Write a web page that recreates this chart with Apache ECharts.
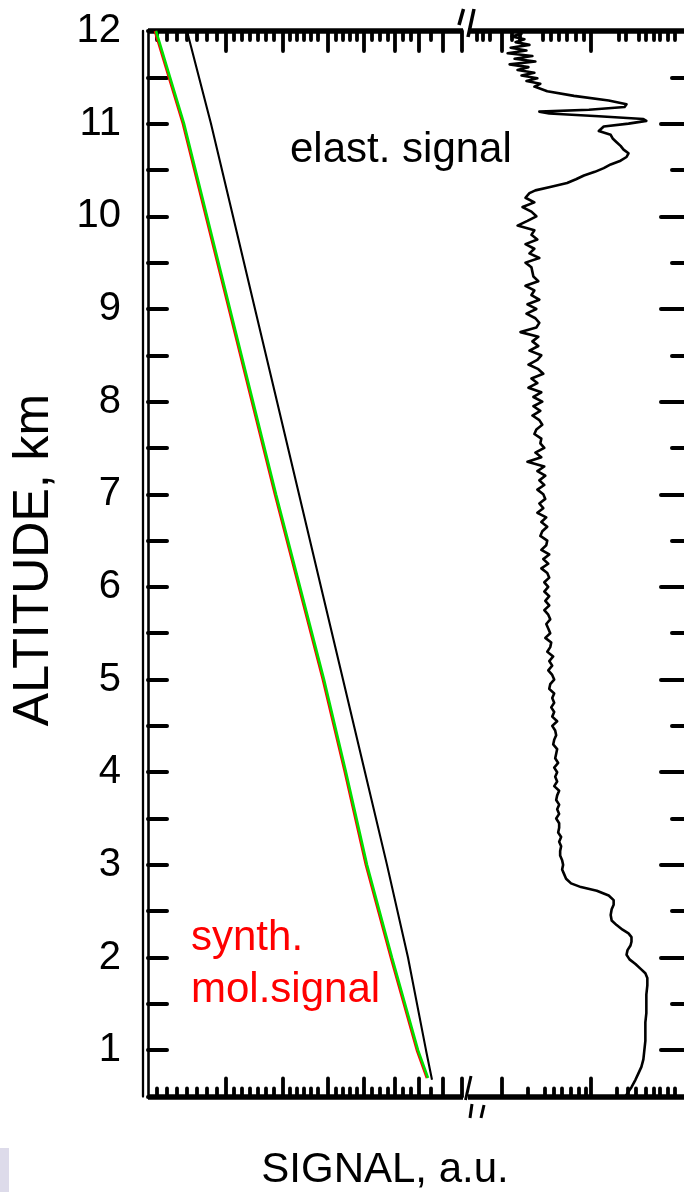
<!DOCTYPE html>
<html>
<head>
<meta charset="utf-8">
<script src="https://cdn.jsdelivr.net/npm/echarts@6/dist/echarts.min.js"></script>
<style>
  html, body { margin: 0; padding: 0; background: #fff; }
  #chart { width: 684px; height: 1192px; }
</style>
</head>
<body>
<div id="chart"></div>
<script>
// Lidar profiles: altitude (km) against signal (a.u., broken axis)

// Synthetic molecular signal (red) and its companion curve (green)
const molAlt = [12, 11, 10, 9, 8, 7, 6, 5, 4, 3, 2, 1, 0.7];
const synthRed = [0.7, 3.5, 5.8, 8.1, 10.4, 12.7, 15.1, 17.5, 19.7, 21.8, 24.3, 26.9, 27.9];
const synthGreen = [0.8, 3.6, 5.9, 8.2, 10.5, 12.8, 15.2, 17.6, 19.8, 21.9, 24.4, 27.0, 28.0];

// Measured molecular channel (black, left panel)
const rawAlt = [12, 11, 10, 9, 8, 7, 6, 5, 4, 3, 2, 1, 0.68];
const rawMol = [3.9, 6.3, 8.5, 10.7, 12.9, 15.1, 17.3, 19.5, 21.7, 23.9, 26.0, 27.8, 28.4];

// Elastic backscatter signal (right panel)
const elastAlt = [
  12.00, 11.97, 11.94, 11.91, 11.88, 11.85, 11.82, 11.79, 11.76, 11.73, 11.70, 11.67, 11.64, 11.61,
  11.58, 11.55, 11.52, 11.49, 11.46, 11.43, 11.40, 11.35, 11.30, 11.25, 11.21, 11.18, 11.15, 11.13,
  11.11, 11.08, 11.05, 11.03, 11.00, 10.97, 10.92, 10.88, 10.84, 10.80, 10.76, 10.72, 10.68, 10.64,
  10.60, 10.56, 10.52, 10.48, 10.44, 10.40, 10.36, 10.32, 10.28, 10.25,
  10.20, 10.15, 10.10, 10.05, 10.00, 9.95, 9.90, 9.85, 9.80, 9.75, 9.70, 9.65, 9.60, 9.55, 9.50,
  9.45, 9.40, 9.35, 9.30, 9.25, 9.20, 9.15, 9.10, 9.05, 9.00, 8.95, 8.90, 8.85, 8.80, 8.75, 8.70,
  8.65, 8.60, 8.55, 8.50, 8.45, 8.40, 8.35, 8.30, 8.25, 8.20, 8.15, 8.10, 8.05, 8.00,
  7.95, 7.90, 7.85, 7.80, 7.75, 7.70, 7.65, 7.60, 7.55, 7.50, 7.45, 7.40, 7.35, 7.30, 7.25, 7.20,
  7.15, 7.10, 7.05, 7.00, 6.95, 6.90, 6.85, 6.80, 6.75, 6.70, 6.65, 6.60, 6.55, 6.50, 6.45, 6.40,
  6.35, 6.30, 6.25, 6.20, 6.15, 6.10, 6.05, 6.00,
  5.95, 5.90, 5.85, 5.80, 5.75, 5.70, 5.65, 5.60, 5.55, 5.50, 5.45, 5.40, 5.35, 5.30, 5.25, 5.20,
  5.15, 5.10, 5.05, 5.00, 4.95, 4.90, 4.85, 4.80, 4.75, 4.70, 4.65, 4.60, 4.55, 4.50, 4.45, 4.40,
  4.35, 4.30, 4.25, 4.20, 4.15, 4.10, 4.05, 4.00,
  3.95, 3.90, 3.85, 3.80, 3.75, 3.70, 3.65, 3.60, 3.55, 3.50, 3.45, 3.40, 3.35, 3.30, 3.25, 3.20,
  3.15, 3.10, 3.05, 3.00, 2.95, 2.90, 2.85,
  2.80, 2.76, 2.72, 2.67, 2.62, 2.57, 2.52, 2.46, 2.40, 2.35, 2.30, 2.26, 2.22, 2.17, 2.13, 2.08,
  2.03, 1.98, 1.93, 1.88, 1.83, 1.78, 1.70, 1.60, 1.50, 1.40, 1.30, 1.20, 1.10, 1.00, 0.90, 0.82,
  0.75, 0.68, 0.60, 0.52, 0.50
];
const elastSig = [
  4.7, 5.4, 4.4, 5.7, 4.8, 6.2, 4.3, 5.9, 4.0, 6.5, 4.7, 6.8, 4.2, 6.1,
  5.0, 6.7, 5.4, 7.0, 5.9, 7.3, 6.7, 8.0, 10.7, 14.2, 16.0, 15.8, 12.2, 7.2,
  8.2, 13.2, 17.7, 18.0, 16.2, 13.7, 13.2, 14.4, 14.6, 15.0, 15.4, 15.7, 16.2, 16.0,
  15.4, 14.4, 13.7, 12.8, 11.7, 10.9, 10.0, 8.4, 6.8, 6.2,
  5.8, 6.7, 5.5, 6.4, 6.9, 6.0, 5.0, 6.7, 6.4, 7.0, 5.8, 6.7, 6.2, 7.2, 5.8,
  6.4, 6.5, 6.6, 7.1, 5.8, 6.7, 6.4, 7.2, 6.0, 6.9, 5.9, 6.8, 7.2, 6.9, 5.3, 7.1,
  6.5, 7.1, 6.2, 7.4, 7.0, 6.1, 7.1, 7.6, 6.4, 7.0, 6.1, 7.4, 6.6, 7.5,
  6.6, 7.3, 6.5, 7.2, 7.5, 6.9, 6.7, 7.4, 7.3, 7.7, 6.8, 7.4, 6.0, 7.7, 7.0, 7.8,
  7.2, 7.7, 7.0, 7.6, 7.8, 7.2, 7.6, 7.0, 7.9, 7.4, 8.0, 7.5, 7.3, 8.0, 7.9, 7.4,
  8.2, 7.6, 8.1, 7.4, 8.0, 8.2, 7.7, 8.1,
  7.7, 8.2, 7.8, 8.2, 7.7, 8.1, 8.3, 7.9, 8.1, 8.3, 7.8, 8.4, 8.3, 8.0, 8.6, 8.2,
  8.5, 8.1, 8.5, 8.7, 8.3, 8.2, 8.7, 8.5, 8.7, 8.4, 8.7, 8.5, 9.0, 8.5, 8.8, 8.9,
  8.7, 8.6, 9.0, 8.9, 8.8, 9.1, 8.7, 9.0,
  8.8, 9.0, 8.7, 9.2, 9.0, 8.9, 9.2, 9.0, 9.2, 8.9, 9.2, 9.2, 9.1, 9.4, 9.2, 9.4,
  9.3, 9.3, 9.5, 9.6, 9.5, 9.7, 9.9,
  10.4, 11.4, 13.0, 14.2, 14.7, 14.7, 14.5, 14.4, 14.5, 15.0, 15.6, 16.2, 16.5, 16.5, 16.4, 16.1,
  16.0, 16.3, 16.9, 17.4, 17.9, 18.1, 18.1, 18.0, 18.0, 18.0, 17.9, 17.9, 17.9, 17.8, 17.7, 17.5,
  17.2, 16.9, 16.5, 16.0, 15.9
];

// Axis tick positions
const altMajor = [1, 2, 3, 4, 5, 6, 7, 8, 9, 10, 11, 12];
const altMinor = [0.5, 1.5, 2.5, 3.5, 4.5, 5.5, 6.5, 7.5, 8.5, 9.5, 10.5, 11.5];
const sigMajorL = [7.8, 13.5, 18.0, 21.6, 24.7, 27.1, 29.5, 31.4];
const sigMinorL = [0.9, 1.9, 2.9, 3.9, 4.9, 5.9, 6.9, 8.6, 9.4, 10.2, 11.0, 11.8, 12.6,
  14.2, 14.9, 15.6, 16.3, 17.0, 18.8, 19.5, 20.2, 20.9, 22.4, 23.2, 24.0, 25.5, 26.3, 28.3];
const sigMajorR = [3.4, 12.4];
const sigMinorRTop = [0.9, 1.5, 2.2, 4.4, 5.2, 7.5, 8.4, 9.2, 10.0, 10.9, 11.7,
  15.2, 15.9, 17.2, 17.9, 18.7, 19.4, 20.2, 20.9];
const sigMinorRBottom = [6.0, 7.7, 8.7, 9.5, 10.4, 11.2, 11.9,
  15.0, 16.1, 16.9, 17.9, 18.7, 19.4, 20.2, 20.9];

const FONT = "'Liberation Sans', Arial, Helvetica, sans-serif";
const pairs = (xs, ys) => xs.map((x, i) => [x, ys[i]]);

function xAx(grid, pos, max, ticks, len, line) {
  return {
    type: 'value', gridIndex: grid, position: pos, min: 0, max: max,
    axisLine: { show: line, onZero: false, lineStyle: { color: '#000', width: 5.5, cap: 'butt' } },
    axisTick: { show: true, inside: true, length: len, customValues: ticks,
      lineStyle: { color: '#000', width: 3.8, cap: 'round' } },
    axisLabel: { show: false }, splitLine: { show: false }
  };
}
function yTickAx(grid, pos, ticks, len) {
  return {
    type: 'value', gridIndex: grid, position: pos, min: 0.5, max: 12,
    axisLine: { show: false, onZero: false },
    axisTick: { show: true, inside: true, length: len, customValues: ticks,
      lineStyle: { color: '#000', width: 4, cap: 'round' } },
    axisLabel: { show: false }, splitLine: { show: false }
  };
}

const chart = echarts.init(document.getElementById('chart'), null, { renderer: 'canvas' });
chart.setOption({
  animation: false,
  backgroundColor: '#fff',
  grid: [
    { left: 148, top: 31, width: 315, bottom: 95.5 },
    { left: 468, top: 31, width: 218, bottom: 95.5 }
  ],
  xAxis: [
    xAx(0, 'bottom', 31.5, sigMajorL, 18, true),
    xAx(0, 'bottom', 31.5, sigMinorL, 8, false),
    xAx(0, 'top', 31.5, sigMajorL, 20, true),
    xAx(0, 'top', 31.5, sigMinorL, 9, false),
    xAx(1, 'bottom', 21.8, sigMajorR, 18, true),
    xAx(1, 'bottom', 21.8, sigMinorRBottom, 8, false),
    xAx(1, 'top', 21.8, sigMajorR, 20, true),
    xAx(1, 'top', 21.8, sigMinorRTop, 9, false)
  ],
  yAxis: [
    {
      type: 'value', gridIndex: 0, position: 'left', min: 0.5, max: 12, interval: 0.5,
      axisLine: { show: true, onZero: false, lineStyle: { color: '#000', width: 2.6 } },
      axisTick: { show: true, inside: true, length: 19, lineStyle: { color: '#000', width: 4, cap: 'round' } },
      axisLabel: {
        show: true, margin: 27, color: '#000', fontSize: 40, fontFamily: FONT,
        formatter: v => (Math.abs(v - Math.round(v)) < 1e-6 ? String(Math.round(v)) : '')
      },
      splitLine: { show: false }
    },
    {
      type: 'value', gridIndex: 0, position: 'left', offset: 5, min: 0.5, max: 12,
      axisLine: { show: true, onZero: false, lineStyle: { color: '#000', width: 2.3 } },
      axisTick: { show: false }, axisLabel: { show: false }, splitLine: { show: false }
    },
    yTickAx(1, 'right', altMajor, 23),
    yTickAx(1, 'right', altMinor, 12)
  ],
  series: [
    {
      type: 'line', xAxisIndex: 0, yAxisIndex: 0, data: pairs(synthRed, molAlt),
      showSymbol: false, lineStyle: { color: '#ff0000', width: 2.8 }, z: 3
    },
    {
      type: 'line', xAxisIndex: 0, yAxisIndex: 0, data: pairs(synthGreen, molAlt),
      showSymbol: false, lineStyle: { color: '#00e000', width: 2.6 }, z: 4
    },
    {
      type: 'line', xAxisIndex: 0, yAxisIndex: 0, data: pairs(rawMol, rawAlt),
      showSymbol: false, lineStyle: { color: '#000', width: 2.1 }, z: 4
    },
    {
      type: 'line', xAxisIndex: 4, yAxisIndex: 2, data: pairs(elastSig, elastAlt),
      showSymbol: false, lineStyle: { color: '#000', width: 2.6, join: 'round' }, z: 4
    }
  ],
  graphic: [
    { type: 'text', x: 290, y: 150, style: { text: 'elast. signal', fill: '#000',
      font: '42px ' + FONT, align: 'left', verticalAlign: 'middle' } },
    { type: 'text', x: 191, y: 938, style: { text: 'synth.', fill: '#ff0000',
      font: '42px ' + FONT, align: 'left', verticalAlign: 'middle' } },
    { type: 'text', x: 191, y: 990, style: { text: 'mol.signal', fill: '#ff0000',
      font: '42px ' + FONT, align: 'left', verticalAlign: 'middle' } },
    { type: 'text', x: 385, y: 1170, style: { text: 'SIGNAL, a.u.', fill: '#000',
      font: '42px ' + FONT, align: 'center', verticalAlign: 'middle' } },
    { type: 'text', x: 34, y: 560, rotation: Math.PI / 2, style: { text: 'ALTITUDE, km', fill: '#000',
      font: '50px ' + FONT, align: 'center', verticalAlign: 'middle' } },
    // axis break marks
    { type: 'line', shape: { x1: 463.5, y1: 9, x2: 459, y2: 25 }, style: { stroke: '#000', lineWidth: 3.5 } },
    { type: 'line', shape: { x1: 474, y1: 9, x2: 468, y2: 37 }, style: { stroke: '#000', lineWidth: 3.5 } },
    { type: 'line', shape: { x1: 471, y1: 1076, x2: 465.5, y2: 1100 }, style: { stroke: '#000', lineWidth: 3 } },
    { type: 'line', shape: { x1: 472, y1: 1104, x2: 470, y2: 1118 }, style: { stroke: '#000', lineWidth: 3 } },
    { type: 'line', shape: { x1: 484, y1: 1105, x2: 481, y2: 1118 }, style: { stroke: '#000', lineWidth: 3 } },
    { type: 'rect', shape: { x: 0, y: 1148, width: 9, height: 44 }, style: { fill: '#dddbea' } }
  ]
});
</script>
</body>
</html>
